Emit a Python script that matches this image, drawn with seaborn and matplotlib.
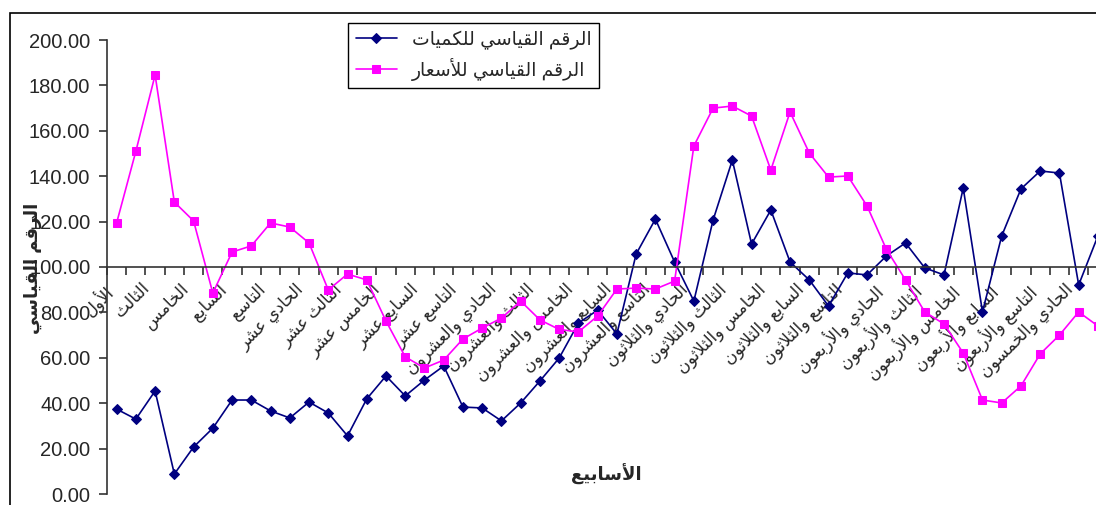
import numpy as np
import pandas as pd
import matplotlib
matplotlib.use("Agg")
import matplotlib.pyplot as plt
from matplotlib.patches import Rectangle
from matplotlib.transforms import ScaledTranslation
import seaborn as sns

# weekly index numbers
weeks = list(range(1, 53))
quantities = [37.4, 33.0, 45.4, 8.8, 20.7, 29.0, 41.4, 41.4, 36.6, 33.5,
              40.5, 35.7, 25.6, 41.9, 52.0, 43.2, 50.2, 56.4, 38.3, 37.9,
              32.2, 40.1, 49.8, 59.9, 75.3, 81.0, 70.5, 105.7, 121.1, 102.2,
              85.0, 120.7, 147.1, 110.1, 125.1, 102.2, 94.3, 82.8, 97.4, 96.5,
              104.8, 110.6, 99.6, 96.5, 134.8, 80.2, 113.7, 134.4, 142.3, 141.4,
              92.1, 113.7]
prices = [119.4, 151.0, 184.6, 128.6, 120.3, 88.5, 106.6, 109.3, 119.4, 117.6,
          110.6, 89.9, 96.9, 94.3, 76.2, 60.4, 55.5, 59.0, 68.3, 73.1,
          77.5, 85.0, 76.7, 72.5, 71.4, 78.4, 90.3, 90.7, 90.3, 93.8,
          153.3, 170.0, 170.9, 166.5, 142.7, 168.3, 150.2, 139.6, 140.1, 126.9,
          107.9, 94.3, 80.2, 74.9, 62.1, 41.4, 40.1, 47.6, 61.7, 70.0,
          80.2, 74.0]

week_labels = ["الأول", "الثالث", "الخامس", "السابع", "التاسع",
               "الحادي عشر", "الثالث عشر", "الخامس عشر", "السابع عشر", "التاسع عشر",
               "الحادي والعشرون", "الثالث والعشرون", "الخامس والعشرون", "السابع والعشرون",
               "التاسع والعشرون", "الحادي والثلاثون", "الثالث والثلاثون", "الخامس والثلاثون",
               "السابع والثلاثون", "التاسع والثلاثون", "الحادي والأربعون", "الثالث والأربعون",
               "الخامس والأربعون", "السابع والأربعون", "التاسع والأربعون", "الحادي والخمسون"]
label_weeks = list(range(1, 52, 2))

qty_name = "الرقم القياسي للكميات"
price_name = "الرقم القياسي للأسعار"
y_title = "الرقم القياسي"
x_title = "الأسابيع"

# matplotlib has no arabic shaping, so map letters to presentation forms
# (isolated, final, initial, medial) and reverse for display
FORMS = {
    'ا': ('\uFE8D', '\uFE8E', None, None),
    'أ': ('\uFE83', '\uFE84', None, None),
    'ب': ('\uFE8F', '\uFE90', '\uFE91', '\uFE92'),
    'ت': ('\uFE95', '\uFE96', '\uFE97', '\uFE98'),
    'ث': ('\uFE99', '\uFE9A', '\uFE9B', '\uFE9C'),
    'ح': ('\uFEA1', '\uFEA2', '\uFEA3', '\uFEA4'),
    'خ': ('\uFEA5', '\uFEA6', '\uFEA7', '\uFEA8'),
    'د': ('\uFEA9', '\uFEAA', None, None),
    'ر': ('\uFEAD', '\uFEAE', None, None),
    'س': ('\uFEB1', '\uFEB2', '\uFEB3', '\uFEB4'),
    'ش': ('\uFEB5', '\uFEB6', '\uFEB7', '\uFEB8'),
    'ع': ('\uFEC9', '\uFECA', '\uFECB', '\uFECC'),
    'ق': ('\uFED5', '\uFED6', '\uFED7', '\uFED8'),
    'ك': ('\uFED9', '\uFEDA', '\uFEDB', '\uFEDC'),
    'ل': ('\uFEDD', '\uFEDE', '\uFEDF', '\uFEE0'),
    'م': ('\uFEE1', '\uFEE2', '\uFEE3', '\uFEE4'),
    'ن': ('\uFEE5', '\uFEE6', '\uFEE7', '\uFEE8'),
    'و': ('\uFEED', '\uFEEE', None, None),
    'ي': ('\uFEF1', '\uFEF2', '\uFEF3', '\uFEF4'),
    'لا': ('\uFEFB', '\uFEFC', None, None),
    'لأ': ('\uFEF7', '\uFEF8', None, None),
}


def shape_ar(text):
    units = []
    i = 0
    while i < len(text):
        if text[i] == 'ل' and text[i + 1:i + 2] in ('ا', 'أ'):
            units.append(text[i:i + 2])
            i += 2
        else:
            units.append(text[i])
            i += 1
    out = []
    for k, u in enumerate(units):
        f = FORMS.get(u)
        if f is None:
            out.append(u)
            continue
        prev = units[k - 1] if k > 0 else None
        nxt = units[k + 1] if k + 1 < len(units) else None
        jp = prev in FORMS and FORMS[prev][2] is not None
        jn = f[2] is not None and nxt in FORMS
        if jp and jn:
            out.append(f[3])
        elif jp:
            out.append(f[1])
        elif jn:
            out.append(f[2])
        else:
            out.append(f[0])
    return ''.join(reversed(out))


sns.set_style("white")
plt.rcParams['font.family'] = ['Liberation Sans', 'DejaVu Sans']

W, H = 1096, 505
fig = plt.figure(figsize=(W / 100, H / 100), dpi=100)
fig.patch.set_facecolor('white')

# outer chart frame (cut off at right and bottom like the source)
fig.patches.append(Rectangle((10 / W, -0.05), 1.2, 1 - 13 / H + 0.05,
                             transform=fig.transFigure, fill=False,
                             edgecolor='black', linewidth=1.2, zorder=0))

ax = fig.add_axes([107 / W, 1 - 494 / H, 1 - 107 / W, (494 - 40) / H])
ax.set_facecolor('none')

sns.lineplot(x=weeks, y=quantities, ax=ax, color='#000080', marker='D',
             markersize=5.5, markeredgecolor='#000080', linewidth=1.2,
             label=shape_ar(qty_name))
sns.lineplot(x=weeks, y=prices, ax=ax, color='#FF00FF', marker='s',
             markersize=5.5, markeredgecolor='#FF00FF', linewidth=1.2,
             label=shape_ar(price_name))

ax.set_xlim(0.5, 51.9)
ax.set_ylim(0, 200)
ax.set_xlabel('')
ax.set_ylabel('')

for s in ['top', 'right']:
    ax.spines[s].set_visible(False)
ax.spines['left'].set_color('#333333')
ax.spines['left'].set_linewidth(1.2)
ax.spines['bottom'].set_position(('data', 100))
ax.spines['bottom'].set_color('#333333')
ax.spines['bottom'].set_linewidth(1.2)

ax.set_yticks(np.arange(0, 201, 20))
ax.set_yticklabels([f"{v:.2f}" for v in np.arange(0, 201, 20)])
ax.tick_params(axis='y', direction='out', length=6, width=1.2, color='#333333',
               labelsize=14.5, pad=6, left=True)

ax.set_xticks(np.arange(0.5, 52.5, 1))
ax.set_xticklabels([])
ax.tick_params(axis='x', which='major', direction='out', length=6, width=1.2,
               color='#333333', bottom=True)
ax.set_xticks(label_weeks, [shape_ar(t) for t in week_labels], minor=True)
ax.tick_params(axis='x', which='minor', length=0, pad=10, labelsize=12)
offset = ScaledTranslation(-10 / 72, 0, fig.dpi_scale_trans)
for lab in ax.get_xticklabels(minor=True):
    lab.set_rotation(45)
    lab.set_ha('right')
    lab.set_rotation_mode('anchor')
    lab.set_transform(lab.get_transform() + offset)

leg = ax.legend(loc='upper left', bbox_to_anchor=(348 / W, 1 - 23 / H),
                bbox_transform=fig.transFigure, borderaxespad=0, fontsize=13.5,
                frameon=True, fancybox=False, framealpha=1, edgecolor='black',
                handlelength=2.2, labelspacing=0.45, borderpad=0.4)
leg.get_frame().set_linewidth(1.0)

fig.text(33 / W, 1 - 268 / H, shape_ar(y_title), rotation=90, ha='center',
         va='center', fontsize=13, fontweight='bold')
fig.text(606 / W, 1 - 474 / H, shape_ar(x_title), ha='center', va='center',
         fontsize=13, fontweight='bold')

fig.savefig('out.png', dpi=100)
